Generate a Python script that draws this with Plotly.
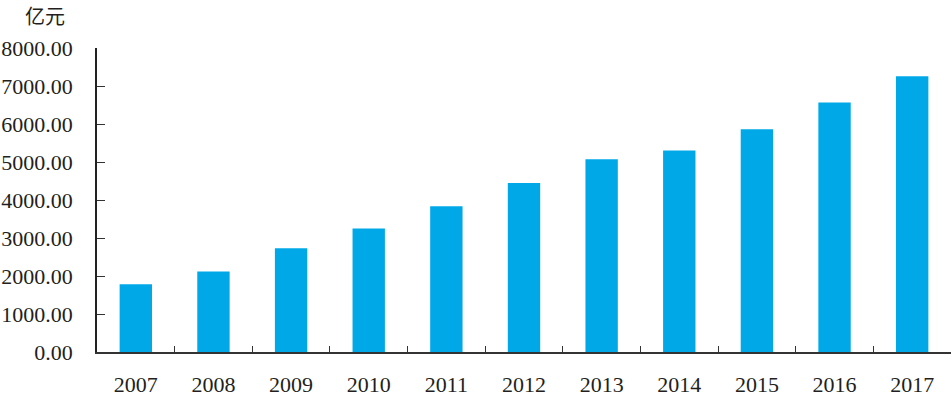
import plotly.graph_objects as go

years = ["2007", "2008", "2009", "2010", "2011", "2012", "2013", "2014", "2015", "2016", "2017"]
values = [1782, 2116, 2729, 3247, 3834, 4447, 5071, 5300, 5861, 6563, 7255]
y_ticks = [0, 1000, 2000, 3000, 4000, 5000, 6000, 7000, 8000]
y_tick_labels = ["%.2f" % v for v in y_ticks]
unit_label = "亿元"

text_color = "#231F20"
bar_color = "#00A8E8"

fig = go.Figure(go.Bar(x=years, y=values, marker=dict(color=bar_color, line=dict(width=0)),
                       width=0.417))

fig.update_layout(
    width=952, height=397,
    margin=dict(l=97, r=1, t=48, b=45, autoexpand=False),
    plot_bgcolor="white", paper_bgcolor="white",
    showlegend=False,
    bargap=0.58,
    font=dict(family="Liberation Serif", size=22, color=text_color),
)
fig.update_xaxes(
    type="category", automargin=False,
    showline=True, linecolor="#333333", linewidth=1.5,
    ticks="inside", tickson="boundaries", ticklen=6, tickcolor="#333333", tickwidth=1.2,
    showgrid=False, zeroline=False,
    ticklabelstandoff=12,
    tickfont=dict(family="Liberation Serif", size=22, color=text_color),
)
fig.update_yaxes(
    range=[0, 8000], automargin=False,
    tickvals=y_ticks, ticktext=y_tick_labels,
    showline=True, linecolor="#222222", linewidth=1.5,
    ticks="inside", ticklen=8, tickcolor="#333333", tickwidth=1.2,
    showgrid=False, zeroline=False,
    ticklabelstandoff=18,
    tickfont=dict(family="Liberation Serif", size=22, color=text_color),
)
fig.add_annotation(
    text=unit_label, xref="paper", yref="paper", x=-0.061, y=1.0, yshift=33,
    xanchor="center", yanchor="middle", showarrow=False, borderpad=0,
    font=dict(family="Noto Sans CJK SC", size=20, color=text_color),
)

fig.write_html("out.html", config={"displayModeBar": False},
               post_script="document.body.style.margin='0';document.body.style.overflow='hidden';")
